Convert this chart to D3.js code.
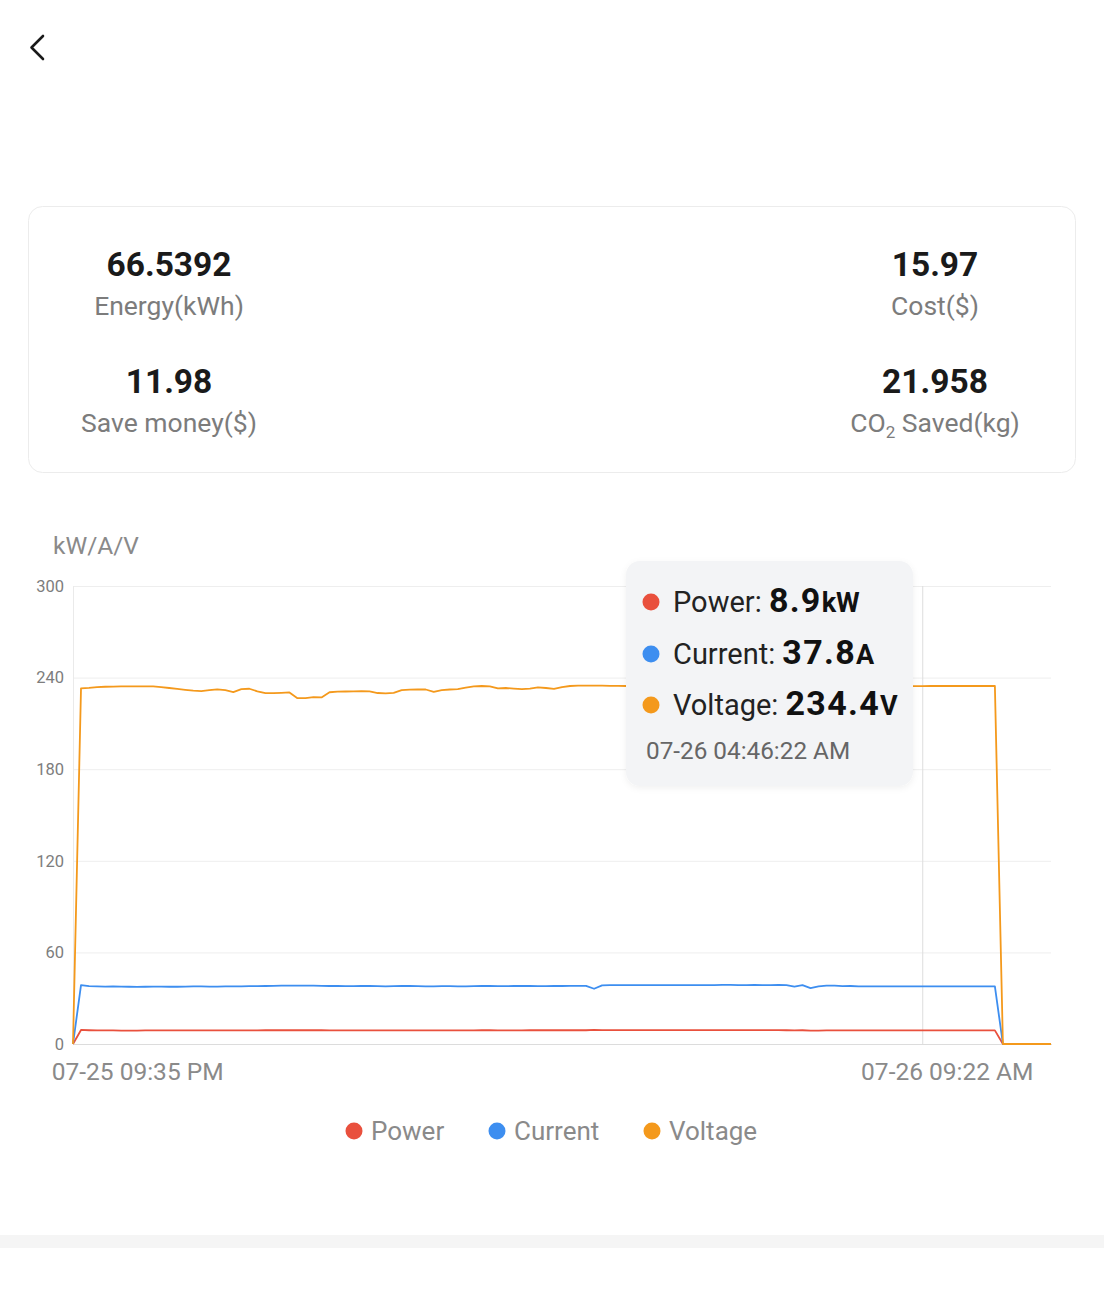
<!DOCTYPE html>
<html>
<head>
<meta charset="utf-8">
<script src="https://cdn.jsdelivr.net/npm/d3@7"></script>
<style>
  html, body { margin: 0; padding: 0; background: #fff; }
  svg { display: block; font-family: Roboto, "Noto Sans", sans-serif; }
</style>
</head>
<body>
<svg id="chart" width="1104" height="1300"></svg>
<script>
// ---------- data ----------
const statValues = ["66.5392", "15.97", "11.98", "21.958"];
const statLabels = ["Energy(kWh)", "Cost($)", "Save money($)", "CO2 Saved(kg)"];

const seriesNames = ["Power", "Current", "Voltage"];
const seriesUnits = ["kW", "A", "V"];
const seriesColors = ["#e9503d", "#3d8ef0", "#f4991c"];

const yTicks = [0, 60, 120, 180, 240, 300];
const xTickIndex = [8, 109];
const xTickLabels = ["07-25 09:35 PM", "07-26 09:22 AM"];

const power = [
  0, 9.2, 9.0, 8.9, 8.9, 8.9, 8.8, 8.8, 8.8, 8.9,
  8.9, 8.9, 8.9, 8.9, 8.9, 8.9, 8.9, 8.9, 8.9, 8.9,
  8.9, 8.9, 8.9, 8.9, 9.0, 9.0, 9.0, 9.0, 9.0, 9.0,
  9.0, 9.0, 8.9, 8.9, 8.9, 8.9, 8.9, 8.9, 8.9, 8.9,
  8.9, 8.9, 8.9, 8.9, 8.9, 8.9, 8.9, 8.9, 8.9, 8.9,
  8.9, 9.0, 9.0, 8.9, 8.9, 8.9, 8.9, 9.0, 9.0, 9.0,
  9.0, 9.0, 9.0, 9.0, 9.0, 9.3, 9.1, 9.1, 9.1, 9.1,
  9.1, 9.1, 9.1, 9.1, 9.1, 9.1, 9.1, 9.1, 9.1, 9.1,
  9.1, 9.1, 9.1, 9.1, 9.1, 9.1, 9.1, 9.1, 9.1, 9.0,
  8.9, 9.0, 8.7, 8.8, 8.9, 8.9, 8.9, 8.9, 8.9, 8.9,
  8.9, 8.9, 8.9, 8.9, 8.9, 8.9, 8.9, 8.9, 8.9, 8.9,
  8.9, 8.9, 8.9, 8.9, 8.9, 8.9,
  0, 0, 0, 0, 0, 0, 0
];
const current = [
  0, 38.6, 37.9, 37.8, 37.6, 37.7, 37.6, 37.5, 37.4, 37.5,
  37.6, 37.6, 37.5, 37.5, 37.6, 37.7, 37.7, 37.6, 37.6, 37.7,
  37.8, 37.8, 37.9, 37.9, 38.0, 38.1, 38.2, 38.3, 38.3, 38.2,
  38.2, 38.1, 38.0, 38.0, 37.9, 37.9, 38.0, 38.0, 37.9, 37.8,
  37.9, 38.0, 38.0, 37.9, 37.8, 37.8, 37.9, 37.9, 37.8, 37.8,
  37.9, 38.0, 38.0, 37.9, 37.9, 38.0, 38.0, 38.0, 37.9, 37.9,
  38.0, 38.0, 38.1, 38.1, 38.1, 36.2, 38.4, 38.5, 38.5, 38.5,
  38.5, 38.6, 38.5, 38.5, 38.6, 38.6, 38.5, 38.5, 38.6, 38.6,
  38.6, 38.7, 38.7, 38.6, 38.6, 38.7, 38.6, 38.6, 38.7, 38.6,
  37.6, 38.6, 36.6, 37.8, 38.3, 38.2, 37.9, 38.0, 37.8, 37.8,
  37.8, 37.8, 37.8, 37.8, 37.8, 37.8, 37.8, 37.8, 37.8, 37.8,
  37.8, 37.8, 37.8, 37.8, 37.8, 37.8,
  0, 0, 0, 0, 0, 0, 0
];
const voltage = [
  0, 233.0, 233.3, 233.8, 234.0, 234.1, 234.2, 234.3, 234.3, 234.3,
  234.2, 233.8, 233.2, 232.6, 232.0, 231.5, 231.2, 231.8, 232.3, 231.8,
  230.5, 232.5, 232.7, 231.0, 229.8, 229.8, 230.0, 230.3, 226.5, 226.6,
  227.2, 227.0, 230.4, 230.8, 230.9, 231.0, 231.2, 231.0, 229.9, 229.7,
  230.0, 231.8, 232.1, 232.2, 232.2, 230.6, 231.8, 232.2, 232.5, 233.5,
  234.3, 234.5, 234.3, 233.0, 233.2, 232.8, 232.4, 232.8, 233.6, 233.2,
  232.6, 233.8, 234.5, 234.7, 234.7, 234.8, 234.7, 234.6, 234.6, 234.5,
  234.5, 234.6, 234.6, 234.7, 234.6, 234.5, 234.5, 234.6, 234.7, 234.6,
  234.5, 234.5, 234.6, 234.6, 234.5, 234.4, 234.5, 234.6, 234.6, 234.5,
  234.5, 234.4, 234.4, 234.5, 234.5, 234.4, 234.4, 234.5, 234.5, 234.4,
  234.4, 234.4, 234.5, 234.5, 234.4, 234.4, 234.4, 234.5, 234.5, 234.5,
  234.5, 234.5, 234.5, 234.5, 234.5, 234.5,
  0, 0, 0, 0, 0, 0, 0
];

const tooltipIndex = 106;
const tooltipValues = ["8.9", "37.8", "234.4"];
const tooltipTime = "07-26 04:46:22 AM";

// ---------- drawing ----------
const svg = d3.select("#chart");

// back chevron
svg.append("path")
  .attr("d", "M43,36 L31.5,47.5 L43,59")
  .attr("fill", "none").attr("stroke", "#1a1a1a")
  .attr("stroke-width", 2.6).attr("stroke-linecap", "round").attr("stroke-linejoin", "round");

// summary card
svg.append("rect")
  .attr("x", 28.5).attr("y", 206.5).attr("width", 1047).attr("height", 266).attr("rx", 14)
  .attr("fill", "#fff").attr("stroke", "#ececec").attr("stroke-width", 1);

const statPos = [[169, 276], [935, 276], [169, 393], [935, 393]];
statValues.forEach((v, i) => {
  const [cx, by] = statPos[i];
  svg.append("text").attr("x", cx).attr("y", by)
    .attr("text-anchor", "middle").attr("font-size", 33.5).attr("font-weight", 700)
    .attr("fill", "#1a1a1a").text(v);
  const lab = svg.append("text").attr("x", cx).attr("y", by + 39)
    .attr("text-anchor", "middle").attr("font-size", 26.5).attr("fill", "#7c7c7c");
  const s = statLabels[i];
  if (s.startsWith("CO2")) {
    lab.append("tspan").text("CO");
    lab.append("tspan").attr("font-size", 17).attr("dy", 6).text("2");
    lab.append("tspan").attr("dy", -6).text(s.slice(3));
  } else {
    lab.text(s);
  }
});

// chart scales
const x = d3.scaleLinear().domain([0, voltage.length - 1]).range([73, 1051]);
const y = d3.scaleLinear().domain([0, 300]).range([1044, 586]);

// unit label
svg.append("text").attr("x", 53).attr("y", 554)
  .attr("font-size", 24.5).attr("fill", "#8a8a8a").text("kW/A/V");

// grid + y axis
const yAxis = svg.append("g").attr("transform", "translate(73,0)")
  .call(d3.axisLeft(y).tickValues(yTicks).tickSize(-978).tickPadding(9).tickFormat(d3.format("d")));
yAxis.select(".domain").remove();
yAxis.selectAll(".tick line").attr("stroke", "#eeeeee").attr("stroke-width", 1);
yAxis.selectAll(".tick text").attr("font-size", 16.5).attr("fill", "#7d7d7d")
  .attr("font-family", "Roboto, sans-serif");

// left axis line and baseline
svg.append("line").attr("x1", 73.5).attr("x2", 73.5).attr("y1", y(300)).attr("y2", y(0))
  .attr("stroke", "#eaeaea");
svg.append("line").attr("x1", 73).attr("x2", 1052).attr("y1", y(0) + 0.5).attr("y2", y(0) + 0.5)
  .attr("stroke", "#dcdcdc");

// tooltip guide line
svg.append("line").attr("x1", x(tooltipIndex)).attr("x2", x(tooltipIndex))
  .attr("y1", y(300)).attr("y2", y(0)).attr("stroke", "#dddddd").attr("stroke-width", 1);

// x axis
const xAxis = svg.append("g").attr("transform", `translate(0,${y(0)})`)
  .call(d3.axisBottom(x).tickValues(xTickIndex).tickSize(0).tickPadding(19)
    .tickFormat((d, i) => xTickLabels[i]));
xAxis.select(".domain").remove();
xAxis.selectAll(".tick text").attr("font-size", 24.5).attr("fill", "#8a8a8a")
  .attr("font-family", "Roboto, sans-serif");

// lines
const allSeries = [power, current, voltage];
const line = d3.line().x((d, i) => x(i)).y(d => y(d));
allSeries.forEach((s, k) => {
  svg.append("path").datum(s).attr("d", line)
    .attr("fill", "none").attr("stroke", seriesColors[k])
    .attr("stroke-width", 1.8).attr("stroke-linejoin", "round");
});

// tooltip
const defs = svg.append("defs");
const f = defs.append("filter").attr("id", "sh").attr("x", "-10%").attr("y", "-10%")
  .attr("width", "120%").attr("height", "125%");
f.append("feDropShadow").attr("dx", 0).attr("dy", 2).attr("stdDeviation", 3)
  .attr("flood-color", "#000").attr("flood-opacity", 0.06);

const tip = svg.append("g");
tip.append("rect").attr("x", 626).attr("y", 561).attr("width", 287).attr("height", 225)
  .attr("rx", 14).attr("fill", "#f3f4f6").attr("filter", "url(#sh)");
const rowBase = [612, 664, 715];
seriesNames.forEach((n, k) => {
  tip.append("circle").attr("cx", 651).attr("cy", rowBase[k] - 10).attr("r", 8.5)
    .attr("fill", seriesColors[k]);
  const t = tip.append("text").attr("x", 673).attr("y", rowBase[k]).attr("fill", "#222");
  t.append("tspan").attr("font-size", 29).text(n + ": ");
  t.append("tspan").attr("font-size", 34).attr("font-weight", 700).attr("fill", "#111")
    .attr("letter-spacing", 1.3).text(tooltipValues[k]);
  t.append("tspan").attr("font-size", 27).attr("font-weight", 700).attr("fill", "#111")
    .text(seriesUnits[k]);
});
tip.append("text").attr("x", 646).attr("y", 759).attr("font-size", 24.3)
  .attr("fill", "#666").text(tooltipTime);

// legend
const legX = [354, 497, 652];
seriesNames.forEach((n, k) => {
  svg.append("circle").attr("cx", legX[k]).attr("cy", 1131).attr("r", 8.5)
    .attr("fill", seriesColors[k]);
  svg.append("text").attr("x", legX[k] + 17).attr("y", 1140)
    .attr("font-size", 26).attr("fill", "#8a8a8a").text(n);
});

// bottom separator band
svg.append("rect").attr("x", 0).attr("y", 1235).attr("width", 1104).attr("height", 13)
  .attr("fill", "#f5f5f5");
</script>
</body>
</html>
